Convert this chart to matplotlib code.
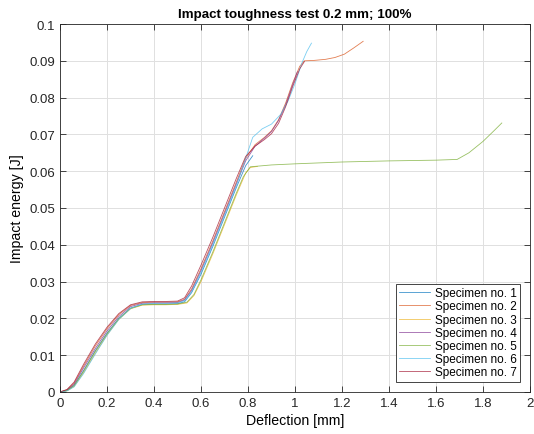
import numpy as np
import matplotlib
matplotlib.use("Agg")
import matplotlib.pyplot as plt

plt.rcParams['font.family'] = ['Liberation Sans', 'DejaVu Sans']

# deflection [mm] / impact energy [J] per specimen
x1 = [0, 0.03, 0.06, 0.1, 0.15, 0.2, 0.25, 0.3, 0.35, 0.4, 0.45, 0.5, 0.53, 0.56, 0.6, 0.65, 0.7, 0.75, 0.79, 0.82]
y1 = [0, 0.0004, 0.0018, 0.0058, 0.0112, 0.016, 0.0200, 0.0228, 0.0238, 0.0239, 0.0239, 0.024, 0.0245, 0.027, 0.032, 0.0395, 0.0475, 0.0555, 0.0615, 0.0642]

x2 = [0, 0.03, 0.06, 0.1, 0.15, 0.2, 0.25, 0.3, 0.35, 0.4, 0.45, 0.5, 0.53, 0.56, 0.6, 0.65, 0.7, 0.75, 0.79, 0.83, 0.87, 0.9,
      0.93, 0.96, 0.99, 1.02, 1.04, 1.08, 1.13, 1.17, 1.21, 1.25, 1.29]
y2 = [0, 0.0006, 0.0024, 0.007, 0.0125, 0.0172, 0.021, 0.0235, 0.0243, 0.0244, 0.0244, 0.0245, 0.0252, 0.028, 0.0335, 0.041,
      0.049, 0.057, 0.0635, 0.0672, 0.0692, 0.071, 0.074, 0.0785, 0.084, 0.0885, 0.0900, 0.0901, 0.0904, 0.0909, 0.0918, 0.0935, 0.0953]

x3 = [0, 0.03, 0.06, 0.1, 0.15, 0.2, 0.25, 0.3, 0.35, 0.4, 0.45, 0.5, 0.54, 0.57, 0.6, 0.65, 0.7, 0.75, 0.79, 0.81, 0.84]
y3 = [0, 0.0003, 0.0015, 0.0052, 0.0105, 0.0155, 0.0197, 0.0226, 0.0236, 0.0237, 0.0237, 0.0238, 0.0242, 0.0262, 0.030, 0.0375,
      0.0455, 0.0535, 0.0595, 0.0610, 0.0613]

x4 = [0, 0.03, 0.06, 0.1, 0.15, 0.2, 0.25, 0.3, 0.35, 0.4, 0.45, 0.5, 0.53, 0.56, 0.6, 0.65, 0.7, 0.75, 0.79, 0.83, 0.87, 0.9,
      0.93, 0.96, 0.99, 1.01]
y4 = [0, 0.0005, 0.0021, 0.0065, 0.0118, 0.0166, 0.0205, 0.0232, 0.0241, 0.0242, 0.0242, 0.0243, 0.025, 0.0276, 0.033, 0.0405,
      0.0485, 0.0565, 0.0628, 0.0668, 0.0690, 0.0708, 0.0738, 0.078, 0.0835, 0.087]

x5 = [0, 0.03, 0.06, 0.1, 0.15, 0.2, 0.25, 0.3, 0.35, 0.4, 0.45, 0.5, 0.54, 0.57, 0.6, 0.65, 0.7, 0.75, 0.78, 0.81, 0.9,
      1.0, 1.2, 1.4, 1.6, 1.69, 1.74, 1.8, 1.85, 1.88]
y5 = [0, 0.0004, 0.0017, 0.0056, 0.011, 0.0158, 0.0199, 0.0227, 0.0237, 0.0238, 0.0238, 0.0239, 0.0244, 0.0265, 0.0305, 0.038,
      0.046, 0.054, 0.0585, 0.0612, 0.0617, 0.062, 0.0625, 0.0628, 0.063, 0.0632, 0.065, 0.0681, 0.0712, 0.0731]

x6 = [0, 0.03, 0.06, 0.1, 0.15, 0.2, 0.25, 0.3, 0.35, 0.4, 0.45, 0.5, 0.53, 0.56, 0.6, 0.65, 0.7, 0.75, 0.79, 0.82, 0.86, 0.9,
      0.94, 0.97, 1.0, 1.03, 1.05, 1.07]
y6 = [0, 0.0003, 0.0014, 0.005, 0.0103, 0.0154, 0.0197, 0.0227, 0.0239, 0.0241, 0.0241, 0.0242, 0.0248, 0.0272, 0.0325, 0.040,
      0.048, 0.056, 0.0635, 0.0692, 0.0715, 0.0728, 0.0755, 0.079, 0.0838, 0.0895, 0.0925, 0.0948]

x7 = [0, 0.03, 0.06, 0.1, 0.15, 0.2, 0.25, 0.3, 0.35, 0.4, 0.45, 0.5, 0.53, 0.56, 0.6, 0.65, 0.7, 0.75, 0.79, 0.83, 0.87, 0.9,
      0.93, 0.96, 0.99, 1.02, 1.04]
y7 = [0, 0.0007, 0.0027, 0.0075, 0.013, 0.0176, 0.0213, 0.0237, 0.0245, 0.0246, 0.0246, 0.0247, 0.0256, 0.0288, 0.0345, 0.042,
      0.050, 0.058, 0.064, 0.0668, 0.0686, 0.0702, 0.073, 0.0775, 0.083, 0.0878, 0.0898]

xs = [x1, x2, x3, x4, x5, x6, x7]
ys = [y1, y2, y3, y4, y5, y6, y7]
labels = ["Specimen no. %d" % i for i in range(1, 8)]
colors = ["#0072BD", "#D95319", "#EDB120", "#7E2F8E", "#77AC30", "#4DBEEE", "#A2142F"]

fig = plt.figure(figsize=(5.34, 4.35), dpi=100)
ax = fig.add_axes([0.1124, 0.0966, 0.8801, 0.8459])

for x, y, c, lab in zip(xs, ys, colors, labels):
    ax.plot(x, y, color=c, lw=0.6, alpha=0.75, label=lab)

ax.set_xlim(0, 2)
ax.set_ylim(0, 0.1)
ax.set_xticks(np.arange(0, 2.01, 0.2))
ax.set_yticks(np.arange(0, 0.101, 0.01))
ax.set_xticklabels(["0", "0.2", "0.4", "0.6", "0.8", "1", "1.2", "1.4", "1.6", "1.8", "2"])
ax.set_yticklabels(["0"] + ["%.2f" % v for v in np.arange(0.01, 0.1, 0.01)] + ["0.1"])
ax.grid(True, color="#e0e0e0", lw=0.7)
ax.set_axisbelow(True)
ax.tick_params(direction="in", top=True, right=True, labelsize=9.5, colors="#262626", length=4, width=0.6)
for s in ax.spines.values():
    s.set_color("#262626")
    s.set_linewidth(0.6)

ax.set_title("Impact toughness test 0.2 mm; 100%", fontsize=9.6, fontweight="bold", pad=5)
ax.set_xlabel("Deflection [mm]", fontsize=10.2, labelpad=3)
ax.set_ylabel("Impact energy [J]", fontsize=10.2, labelpad=4)

leg = ax.legend(loc="lower right", fontsize=8.5, fancybox=False, edgecolor="#262626",
                handlelength=2.6, labelspacing=0.1, borderpad=0.3, handletextpad=0.4,
                borderaxespad=0.85, framealpha=1)
leg.get_frame().set_linewidth(0.6)

fig.savefig("out.png", dpi=100)
